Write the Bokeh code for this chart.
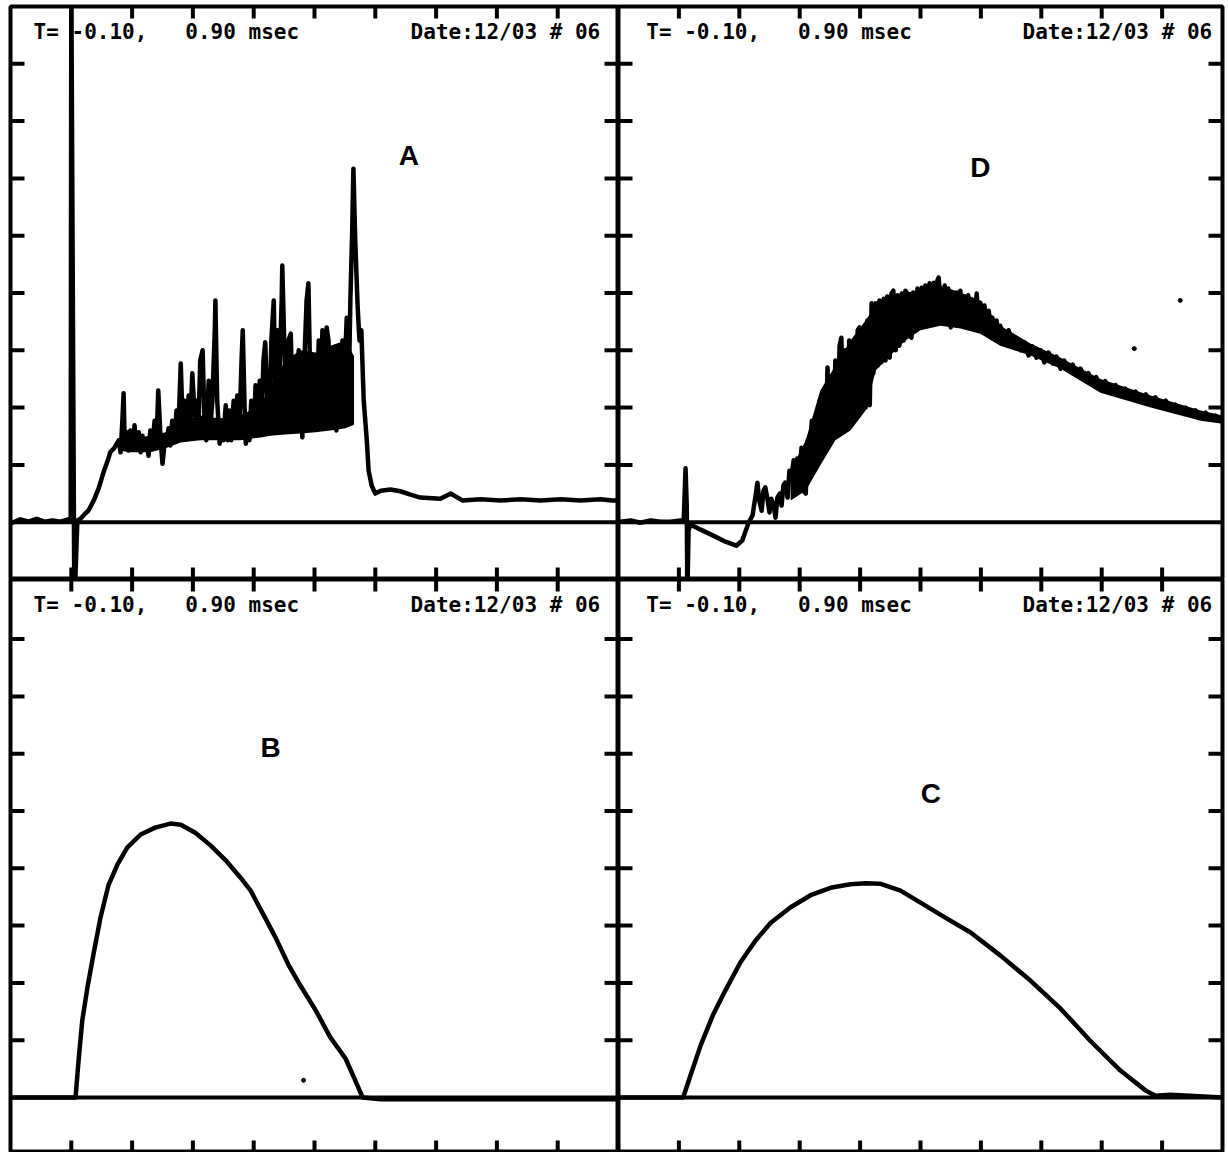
import math
from bokeh.plotting import figure
from bokeh.layouts import gridplot
from bokeh.models import Span, Label
from bokeh.embed import file_html
from bokeh.resources import INLINE

# ---------------- data (time in msec, signal in screen divisions) ----------------
t_A = [-0.097, -0.084, -0.070, -0.057, -0.044, -0.031, -0.018, -0.005, -0.001, 0.000,
       0.005, 0.010, 0.015, 0.022, 0.028, 0.037, 0.045, 0.053, 0.060, 0.064,
       0.071, 0.078, 0.081, 0.084, 0.086, 0.088, 0.091, 0.094, 0.097, 0.101,
       0.104, 0.107, 0.111, 0.114, 0.117, 0.120, 0.124, 0.127, 0.130, 0.134,
       0.137, 0.140, 0.143, 0.147, 0.150, 0.153, 0.157, 0.160, 0.163, 0.166,
       0.170, 0.173, 0.176, 0.180, 0.183, 0.186, 0.189, 0.193, 0.196, 0.199,
       0.203, 0.206, 0.209, 0.212, 0.216, 0.219, 0.222, 0.226, 0.229, 0.232,
       0.236, 0.237, 0.240, 0.244, 0.247, 0.250, 0.254, 0.257, 0.260, 0.263,
       0.267, 0.270, 0.273, 0.277, 0.280, 0.282, 0.285, 0.287, 0.290, 0.293,
       0.296, 0.300, 0.303, 0.306, 0.310, 0.313, 0.316, 0.319, 0.323, 0.326,
       0.329, 0.333, 0.336, 0.339, 0.342, 0.346, 0.347, 0.351, 0.354, 0.357,
       0.361, 0.364, 0.367, 0.370, 0.374, 0.377, 0.380, 0.384, 0.387, 0.390,
       0.393, 0.397, 0.400, 0.403, 0.407, 0.410, 0.413, 0.416, 0.420, 0.423,
       0.426, 0.430, 0.433, 0.436, 0.439, 0.443, 0.446, 0.449, 0.453, 0.456,
       0.459, 0.462, 0.464, 0.467, 0.471, 0.474, 0.477, 0.481, 0.486, 0.489,
       0.494, 0.500, 0.509, 0.525, 0.541, 0.558, 0.574, 0.607, 0.624, 0.643,
       0.673, 0.706, 0.739, 0.772, 0.805, 0.838, 0.870, 0.890, 0.900]
v_A = [-0.01, 0.05, 0.01, 0.06, 0.01, 0.03, 0.01, 0.05, 0.03, 9.5,
       -1.5, 0.03, 0.06, 0.14, 0.20, 0.38, 0.59, 0.87, 1.08, 1.22,
       1.30, 1.43, 1.22, 1.77, 2.25, 1.34, 1.57, 1.25, 1.60, 1.29,
       1.69, 1.32, 1.57, 1.22, 1.51, 1.30, 1.46, 1.16, 1.60, 1.39,
       1.77, 1.34, 2.30, 1.43, 1.02, 1.34, 1.43, 1.64, 1.34, 1.77,
       1.43, 1.95, 1.57, 2.77, 1.77, 2.12, 1.60, 2.21, 1.77, 2.60,
       1.86, 2.12, 1.60, 2.82, 3.00, 1.77, 1.43, 2.47, 1.69, 2.12,
       3.35, 3.87, 2.12, 1.37, 1.77, 1.43, 2.04, 1.43, 1.95, 1.43,
       2.12, 1.69, 2.21, 1.77, 2.82, 3.35, 2.04, 1.37, 1.77, 1.43,
       2.12, 1.51, 2.39, 1.69, 2.47, 1.77, 2.82, 3.14, 1.95, 1.60,
       3.17, 3.87, 1.95, 3.35, 2.47, 3.87, 4.48, 2.82, 1.77, 3.17,
       3.29, 1.95, 2.47, 1.60, 3.00, 2.04, 1.48, 3.00, 3.87, 4.17,
       2.47, 1.77, 2.82, 1.77, 3.17, 1.95, 3.35, 1.77, 3.40, 3.17,
       2.12, 1.69, 2.65, 1.60, 2.82, 1.77, 3.17, 2.47, 3.57, 2.12,
       3.87, 5.09, 6.17, 4.92, 3.75, 3.17, 3.35, 2.12, 1.43, 0.90,
       0.64, 0.50, 0.55, 0.57, 0.54, 0.48, 0.43, 0.41, 0.50, 0.38,
       0.40, 0.38, 0.40, 0.38, 0.40, 0.38, 0.40, 0.38, 0.38]
# dense (unresolved) part of trace A: lower / upper envelope
band_A_t = [0.078, 0.097, 0.130, 0.155, 0.180, 0.212, 0.245, 0.278,
            0.311, 0.328, 0.352, 0.377, 0.402, 0.426, 0.451, 0.465]
band_A_lo = [1.25, 1.22, 1.22, 1.29, 1.39, 1.43, 1.43, 1.43,
             1.48, 1.51, 1.53, 1.55, 1.57, 1.60, 1.64, 1.70]
band_A_hi = [1.43, 1.46, 1.50, 1.57, 1.77, 1.86, 1.81, 1.86,
             2.04, 2.39, 2.82, 3.00, 2.96, 3.08, 3.17, 2.90]

t_D = [-0.097, -0.080, -0.064, -0.047, -0.030, -0.014, 0.003, 0.008, 0.011, 0.013,
       0.014, 0.016, 0.019, 0.036, 0.056, 0.077, 0.095, 0.105, 0.115, 0.122,
       0.127, 0.130, 0.133, 0.137, 0.140, 0.143, 0.147, 0.150, 0.153, 0.157,
       0.160, 0.163, 0.167, 0.170, 0.173, 0.176, 0.180, 0.183, 0.186, 0.190,
       0.193, 0.196, 0.200, 0.203, 0.206, 0.210, 0.213, 0.216, 0.220, 0.223,
       0.226, 0.229, 0.233, 0.236, 0.239, 0.243, 0.246, 0.249, 0.253, 0.256,
       0.259, 0.263, 0.266, 0.269, 0.273, 0.276, 0.279, 0.282, 0.286, 0.289,
       0.292, 0.296, 0.299, 0.302, 0.306, 0.309, 0.312, 0.316, 0.319, 0.322,
       0.326, 0.329, 0.332, 0.335, 0.339, 0.342, 0.345, 0.349, 0.352, 0.355,
       0.359, 0.362, 0.365, 0.369, 0.372, 0.375, 0.378, 0.382, 0.385, 0.388,
       0.392, 0.395, 0.398, 0.402, 0.405, 0.408, 0.412, 0.415, 0.418, 0.422,
       0.425, 0.428, 0.430, 0.433, 0.436, 0.440, 0.443, 0.446, 0.450, 0.453,
       0.456, 0.460, 0.463, 0.466, 0.470, 0.473, 0.476, 0.479, 0.483, 0.486,
       0.489, 0.493, 0.496, 0.499, 0.503, 0.506, 0.509, 0.513, 0.516, 0.519,
       0.523, 0.526, 0.529, 0.532, 0.539, 0.546, 0.552, 0.559, 0.566, 0.572,
       0.579, 0.585, 0.592, 0.599, 0.605, 0.612, 0.619, 0.625, 0.632, 0.638,
       0.645, 0.652, 0.658, 0.665, 0.672, 0.678, 0.685, 0.691, 0.698, 0.706,
       0.715, 0.723, 0.731, 0.739, 0.748, 0.756, 0.764, 0.773, 0.781, 0.789,
       0.797, 0.806, 0.814, 0.822, 0.830, 0.839, 0.847, 0.855, 0.864, 0.872,
       0.880, 0.888, 0.900]
v_D = [0.01, 0.03, -0.01, 0.03, 0.01, 0.01, 0.03, 0.03, 0.94, 0.29,
       -1.3, -0.14, -0.04, -0.13, -0.23, -0.34, -0.41, -0.32, -0.02, 0.12,
       0.47, 0.69, 0.38, 0.20, 0.55, 0.61, 0.38, 0.17, 0.41, 0.29,
       0.08, 0.43, 0.50, 0.29, 0.64, 0.69, 0.43, 0.90, 0.76, 1.08,
       0.73, 1.11, 0.90, 1.30, 0.55, 0.50, 1.43, 0.90, 1.77, 1.08,
       1.60, 1.25, 2.12, 1.43, 2.18, 1.34, 2.70, 1.55, 2.47, 1.48,
       2.82, 1.60, 3.08, 3.22, 1.64, 3.00, 1.77, 3.17, 1.81, 2.94,
       1.86, 3.35, 3.40, 1.95, 3.26, 2.00, 3.52, 2.04, 3.82, 2.60,
       3.82, 2.73, 3.87, 2.79, 3.90, 2.82, 3.94, 2.87, 3.99, 4.04,
       3.00, 3.96, 3.08, 3.99, 3.17, 4.04, 3.99, 3.26, 3.22, 4.01,
       3.40, 4.08, 3.57, 4.09, 3.43, 4.13, 3.49, 4.17, 3.87, 4.18,
       3.52, 4.22, 4.27, 3.87, 3.57, 4.13, 3.49, 4.08, 3.40, 3.87,
       3.55, 4.01, 3.43, 4.04, 3.52, 3.94, 3.49, 3.96, 3.40, 3.87,
       3.49, 3.99, 3.43, 3.83, 3.38, 3.78, 3.40, 3.69, 3.31, 3.57,
       3.35, 3.52, 3.22, 3.43, 3.17, 3.35, 3.08, 3.21, 3.00, 3.14,
       2.91, 3.07, 2.87, 3.00, 2.79, 2.96, 2.77, 2.89, 2.68, 2.82,
       2.65, 2.75, 2.56, 2.68, 2.51, 2.60, 2.42, 2.53, 2.35, 2.46,
       2.30, 2.39, 2.23, 2.33, 2.19, 2.28, 2.12, 2.23, 2.09, 2.18,
       2.04, 2.12, 1.98, 2.05, 1.91, 2.00, 1.88, 1.95, 1.83, 1.91,
       1.81, 1.86, 1.77]
# dense (unresolved) part of trace D: lower / upper envelope
band_D_t = [0.185, 0.210, 0.234, 0.259, 0.284, 0.309, 0.326, 0.350, 0.375, 0.400,
            0.433, 0.466, 0.499, 0.532, 0.582, 0.632, 0.698, 0.781, 0.864, 0.900]
band_D_lo = [0.38, 0.55, 0.99, 1.43, 1.60, 1.95, 2.65, 2.91, 3.17, 3.35,
             3.43, 3.38, 3.29, 3.08, 2.91, 2.68, 2.26, 2.00, 1.77, 1.72]
band_D_hi = [0.90, 1.43, 2.30, 2.73, 3.17, 3.52, 3.78, 3.92, 4.01, 4.04,
             4.13, 4.01, 3.87, 3.43, 3.12, 2.87, 2.50, 2.21, 1.95, 1.86]
t_D_specks = [0.754, 0.830]
v_D_specks = [3.03, 3.87]

t_B = [-0.100, -0.050, 0.000, 0.007, 0.012, 0.018, 0.027, 0.037, 0.048, 0.061,
       0.076, 0.092, 0.114, 0.138, 0.163, 0.180, 0.204, 0.229, 0.254, 0.278,
       0.295, 0.314, 0.336, 0.357, 0.377, 0.402, 0.426, 0.451, 0.467, 0.479,
       0.509, 0.700, 0.900]
v_B = [0.0, 0.0, 0.0, 0.0, 0.65, 1.34, 1.95, 2.53, 3.14, 3.70,
       4.07, 4.36, 4.59, 4.71, 4.78, 4.76, 4.62, 4.40, 4.14, 3.84,
       3.61, 3.23, 2.79, 2.32, 1.95, 1.52, 1.05, 0.68, 0.30, 0.0,
       -0.03, -0.03, -0.03]
t_B_specks = [0.382]
v_B_specks = [0.30]

t_C = [-0.100, 0.007, 0.019, 0.036, 0.056, 0.077, 0.102, 0.127, 0.152, 0.185,
       0.218, 0.251, 0.284, 0.309, 0.334, 0.367, 0.400, 0.441, 0.483, 0.532,
       0.582, 0.632, 0.681, 0.731, 0.773, 0.789, 0.814, 0.900]
v_C = [0.0, 0.0, 0.38, 0.91, 1.43, 1.87, 2.36, 2.74, 3.05, 3.32,
       3.53, 3.66, 3.72, 3.74, 3.73, 3.61, 3.40, 3.14, 2.88, 2.48,
       2.04, 1.55, 0.99, 0.47, 0.12, 0.03, 0.05, 0.0]

x_ticks = [0.0, 0.1, 0.2, 0.3, 0.4, 0.5, 0.6, 0.7, 0.8]
y_ticks = [1, 2, 3, 4, 5, 6, 7, 8]
NB = "\u00a0"
header_left = "T= -0.10," + NB * 3 + "0.90 msec"
header_right = "Date:12/03 # 06"

X_RANGE = (-0.10, 0.90)
TOP_Y = (-1.0, 9.0)
BOT_Y = (-0.96, 9.04)
LW = 4.5


def panel(width, height, y_range, pad_l, pad_r, pad_t, t, v, letter, letter_xy,
          head_l, head_r, head_y, specks=None, band=None):
    p = figure(width=width, height=height, x_range=X_RANGE, y_range=y_range,
               x_axis_location=None, y_axis_location=None,
               toolbar_location=None, output_backend="svg",
               min_border=0, min_border_left=pad_l, min_border_right=pad_r,
               min_border_top=pad_t, min_border_bottom=0,
               background_fill_color="white", border_fill_color="white",
               outline_line_color="black", outline_line_width=4, outline_line_alpha=1.0)
    p.grid.visible = False

    # zero line
    p.add_layout(Span(location=0, dimension="width", line_color="black", line_width=4))

    # tick marks on the frame edges (inward)
    x0, x1 = X_RANGE
    y0, y1 = y_range
    p.scatter(x=x_ticks, y=[y1] * len(x_ticks), marker="dash", size=24,
              angle=math.pi / 2, line_color="black", line_width=4)
    p.scatter(x=x_ticks, y=[y0] * len(x_ticks), marker="dash", size=24,
              angle=math.pi / 2, line_color="black", line_width=4)
    p.scatter(x=[x0] * len(y_ticks), y=y_ticks, marker="dash", size=28,
              line_color="black", line_width=4)
    p.scatter(x=[x1] * len(y_ticks), y=y_ticks, marker="dash", size=28,
              line_color="black", line_width=4)

    # trace
    if band is not None:
        p.varea(x=band[0], y1=band[1], y2=band[2], fill_color="black")
    p.line(t, v, line_color="black", line_width=LW, line_join="round", line_cap="round")
    if specks is not None:
        p.scatter(specks[0], specks[1], size=4, color="black")

    # header texts
    p.add_layout(Label(x=head_l, y=head_y, text=header_left, text_font="DejaVu Sans Mono",
                       text_font_style="bold", text_font_size="21px", text_color="black",
                       text_align="left", text_baseline="middle"))
    p.add_layout(Label(x=head_r, y=head_y, text=header_right, text_font="DejaVu Sans Mono",
                       text_font_style="bold", text_font_size="21px", text_color="black",
                       text_align="right", text_baseline="middle"))
    # panel letter
    p.add_layout(Label(x=letter_xy[0], y=letter_xy[1], text=letter, text_font="Liberation Sans",
                       text_font_style="bold", text_font_size="28px", text_color="black",
                       text_align="center", text_baseline="middle"))
    return p


pA = panel(618, 579, TOP_Y, 10, 0, 6, t_A, v_A, "A", (0.555, 6.40), -0.062, 0.870, 8.56,
           band=(band_A_t, band_A_lo, band_A_hi))
pD = panel(610, 579, TOP_Y, 0, 6, 6, t_D, v_D, "D", (0.499, 6.19), -0.054, 0.883, 8.56,
           specks=(t_D_specks, v_D_specks), band=(band_D_t, band_D_lo, band_D_hi))
pB = panel(618, 573, BOT_Y, 10, 0, 0, t_B, v_B, "B", (0.328, 6.11), -0.062, 0.870, 8.59,
           specks=(t_B_specks, v_B_specks))
pC = panel(610, 573, BOT_Y, 0, 6, 0, t_C, v_C, "C", (0.417, 5.31), -0.054, 0.883, 8.59)

grid = gridplot([[pA, pD], [pB, pC]], toolbar_location=None)

open("out.html", "w").write(file_html(grid, INLINE, title="Oscilloscope traces A-D"))
